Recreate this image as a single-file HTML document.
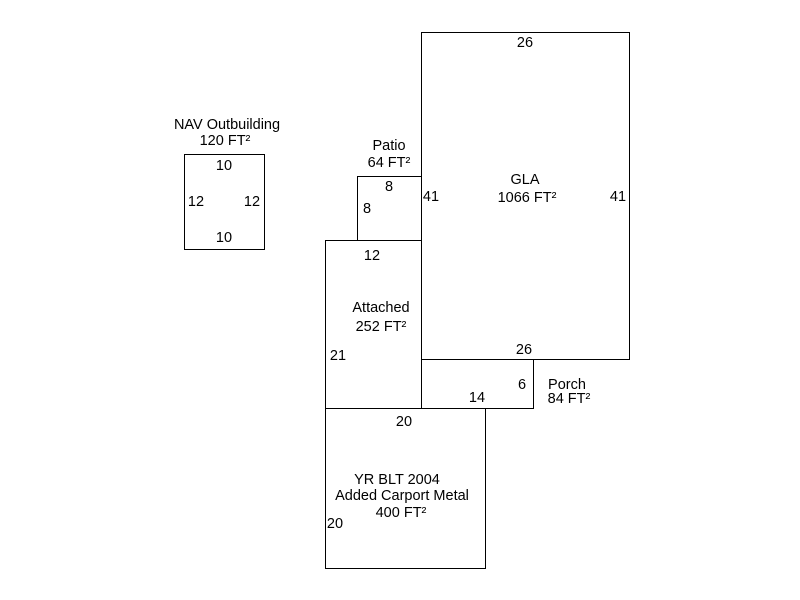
<!DOCTYPE html>
<html><head><meta charset="utf-8"><style>html,body{margin:0;padding:0;background:#fff}svg{display:block}</style></head>
<body>
<svg width="800" height="600" xmlns="http://www.w3.org/2000/svg" font-family="Liberation Sans, Arial, sans-serif" font-size="14.5" fill="#000">
<g fill="none" stroke="#000" stroke-width="1">
<rect x="421.5" y="32.5" width="208" height="327"/>
<rect x="357.5" y="176.5" width="64" height="64"/>
<rect x="325.5" y="240.5" width="96" height="168"/>
<rect x="421.5" y="359.5" width="112" height="49"/>
<rect x="325.5" y="408.5" width="160" height="160"/>
<rect x="184.5" y="154.5" width="80" height="95"/>
</g>
<g text-anchor="middle">
<text x="525" y="47">26</text>
<text x="431" y="201">41</text>
<text x="618" y="201">41</text>
<text x="525" y="184">GLA</text>
<text x="527" y="202">1066 FT²</text>
<text x="524" y="354">26</text>
<text x="389" y="150">Patio</text>
<text x="389" y="167">64 FT²</text>
<text x="389" y="191">8</text>
<text x="367" y="213">8</text>
<text x="372" y="260">12</text>
<text x="381" y="312">Attached</text>
<text x="381" y="331">252 FT²</text>
<text x="338" y="360">21</text>
<text x="522" y="389">6</text>
<text x="477" y="402">14</text>
<text x="567" y="389">Porch</text>
<text x="569" y="403">84 FT²</text>
<text x="404" y="426">20</text>
<text x="397" y="484">YR BLT 2004</text>
<text x="402" y="500">Added Carport Metal</text>
<text x="401" y="517">400 FT²</text>
<text x="335" y="528">20</text>
<text x="227" y="129">NAV Outbuilding</text>
<text x="225" y="145">120 FT²</text>
<text x="224" y="170">10</text>
<text x="196" y="206">12</text>
<text x="252" y="206">12</text>
<text x="224" y="242">10</text>
</g>
</svg>
</body></html>
